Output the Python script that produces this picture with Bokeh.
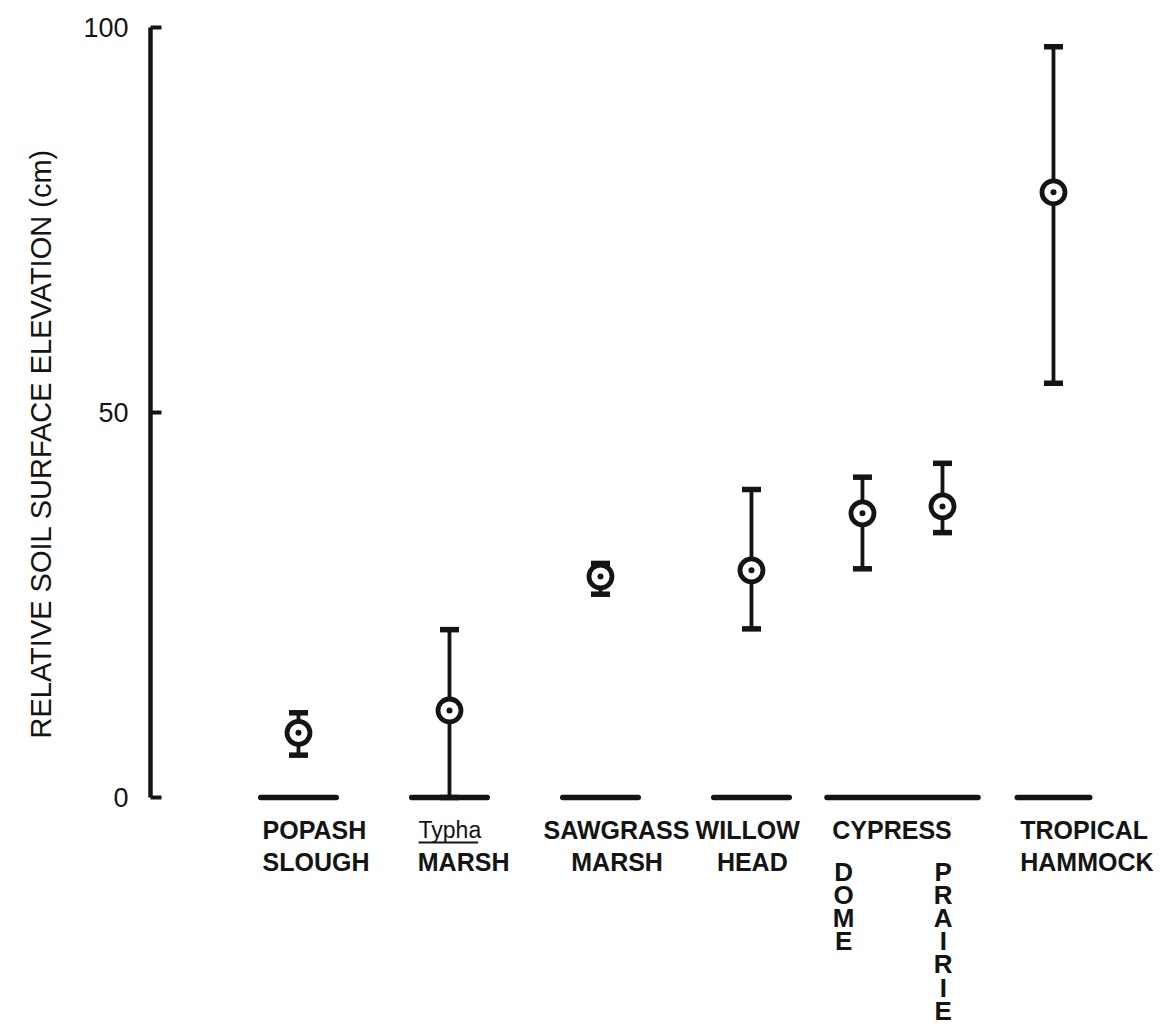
import math
from bokeh.plotting import figure
from bokeh.models import Range1d, FixedTicker, Label, Title, ColumnDataSource
from bokeh.embed import file_html
from bokeh.resources import INLINE

# ---------------- data ----------------
sites = ["POPASH SLOUGH", "Typha MARSH", "SAWGRASS MARSH", "WILLOW HEAD",
         "CYPRESS DOME", "CYPRESS PRAIRIE", "TROPICAL HAMMOCK"]
group = [0, 1, 2, 3, 4, 4, 5]
subpos = [0, 0, 0, 0, -1, 1, 0]
mean = [8.4, 11.3, 28.7, 29.5, 36.9, 37.8, 78.6]
upper = [11.0, 21.8, 30.4, 40.0, 41.6, 43.4, 97.5]
lower = [5.5, 0.0, 26.4, 21.9, 29.7, 34.4, 53.8]

base_groups = [0, 1, 2, 3, 4, 5]
row1 = ["POPASH", "Typha", "SAWGRASS", "WILLOW", "CYPRESS", "TROPICAL"]
row2 = ["SLOUGH", "MARSH", "MARSH", "HEAD", "", "HAMMOCK"]
sub_labels = ["DOME", "PRAIRIE"]

y_ticks = [0, 50, 100]
y_title = "RELATIVE SOIL SURFACE ELEVATION  (cm)"

# ---------------- layout ----------------
INK = "#141414"
FONT = "Liberation Sans"
SUB = 0.265
xs = [g + SUB * s for g, s in zip(group, subpos)]

def py(v):  # page-pixel row -> data y
    return (797 - v) / 7.7

src = ColumnDataSource(dict(x=xs, mean=mean, upper=upper, lower=lower, site=sites))

p = figure(frame_width=1006, frame_height=995,
           x_range=Range1d(-0.98, -0.98 + 1006 / 151), y_range=Range1d(py(1022), 100),
           output_backend="svg", toolbar_location=None,
           min_border_left=150, min_border_right=1,
           min_border_top=27, min_border_bottom=3,
           background_fill_color="white", border_fill_color="white")
p.outline_line_color = None
p.grid.visible = False
p.xaxis.visible = False

ya = p.yaxis[0]
ya.bounds = (0, 100)
ya.ticker = FixedTicker(ticks=y_ticks)
ya.minor_tick_line_color = None
ya.axis_line_width = 4.5
ya.axis_line_color = INK
ya.major_tick_in = 11
ya.major_tick_out = 0
ya.major_tick_line_width = 4
ya.major_tick_line_color = INK
ya.major_label_standoff = 22
ya.major_label_text_font = FONT
ya.major_label_text_font_size = "27px"
ya.major_label_text_color = INK

# y title (left side panel, shifted along the frame)
p.add_layout(Title(text=y_title, align="left", offset=(1022 - 738),
                   vertical_align="top", text_line_height=1.0,
                   text_font=FONT, text_font_size="29px", text_font_style="normal",
                   text_color=INK, standoff=44), "left")

# baselines at zero
half_w = [0.25, 0.25, 0.25, 0.25, 0.5, 0.24]
p.segment(x0=[g - h for g, h in zip(base_groups, half_w)], y0=[0] * len(base_groups),
          x1=[g + h for g, h in zip(base_groups, half_w)], y1=[0] * len(base_groups),
          line_width=5.5, line_color=INK, line_cap="round")

# error bars
p.segment(x0="x", y0="lower", x1="x", y1="upper", source=src, line_width=3.8, line_color=INK)
p.scatter(x="x", y="upper", source=src, marker="dash", size=19, line_width=5.5, line_color=INK)
p.scatter(x="x", y="lower", source=src, marker="dash", size=19, line_width=5.5, line_color=INK)

# means: ring with a dot
p.scatter(x="x", y="mean", source=src, marker="circle", size=23, line_width=4.8,
          line_color=INK, fill_color="white")
p.scatter(x="x", y="mean", source=src, marker="circle", size=6, line_width=0,
          line_color=None, fill_color=INK)

# ---------------- category text ----------------
R1 = py(829)
R2 = py(861)
LSIZE = "25px"

def lab(x, y, t, align="left", base="alphabetic", size=LSIZE, weight="bold"):
    p.add_layout(Label(x=x, y=y, text=t, text_align=align, text_baseline=base,
                       text_font=FONT, text_font_size=size, text_font_style=weight,
                       text_color=INK))

# row 1
lab(0 - 0.238, R1, row1[0])
lab(1 - 0.205, R1, row1[1], size="23px", weight="normal")
lab(2 + 0.106, R1, row1[2], align="center")
lab(3 - 0.37, R1, row1[3])
lab(4 - 0.465, R1, row1[4])
lab(5 - 0.22, R1, row1[5])
# row 2
lab(0 - 0.238, R2, row2[0])
lab(1 - 0.21, R2, row2[1])
lab(2 + 0.11, R2, row2[2], align="center")
lab(3 + 0.24, R2, row2[3], align="right")
lab(5 - 0.22, R2, row2[5])

# underline of Typha
p.segment(x0=[1 - 0.205], y0=[py(842)], x1=[1 + 0.19], y1=[py(842)],
          line_width=2.2, line_color=INK)

# vertical stacked sub labels
sub_x = [4 - 0.39, 4 + 0.27]
for sx, word in zip(sub_x, sub_labels):
    for k, ch in enumerate(word):
        lab(sx, py(871 + 23.2 * k), ch, align="center", base="middle", size="26px")

open("out.html", "w").write(file_html(p, INLINE))
